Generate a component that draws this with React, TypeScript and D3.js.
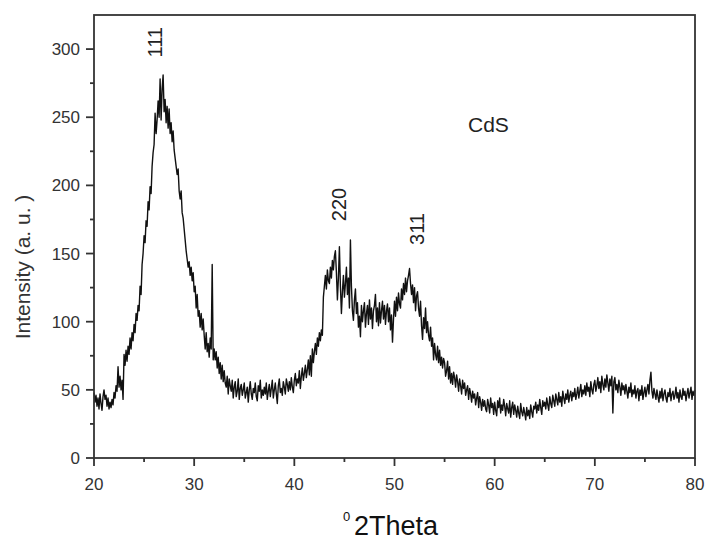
import React from 'react';
import * as d3 from 'd3';

// XRD scan of CdS, 2theta from 20 to 80 in 0.1 degree steps
const scanStart = 20;
const scanStep = 0.1;

const intensity20to35 = [
  48, 41, 46, 38, 44, 36, 47, 40, 35, 45,
  50, 43, 46, 38, 44, 36, 41, 37, 43, 39,
  48, 44, 53, 49, 67, 52, 60, 50, 57, 43,
  76, 68, 79, 71, 82, 76, 88, 80, 92, 86,
  98, 92, 106, 101, 112, 108, 126, 120, 142, 150,
  163, 158, 174, 170, 188, 182, 199, 194, 214, 224,
  230, 253, 238, 248, 262, 250, 278, 248, 271, 281,
  254, 263, 246, 258, 242, 256, 238, 246, 232, 240,
  226, 220, 214, 208, 212, 196, 190, 196, 180, 176,
  168, 160, 152, 146, 140, 144, 134, 140, 130, 136,
  122, 126, 110, 120, 104, 108, 96, 106, 94, 102,
  90, 80, 92, 78, 84, 74, 88, 80, 142, 72,
  80, 72, 78, 66, 74, 62, 70, 58, 68, 56,
  64, 55, 52, 60, 47, 58, 53, 49, 57, 44,
  52, 56, 45, 49, 58, 43, 51, 54, 46, 50,
];

const intensity35to50 = [
  55, 44, 48, 52, 41, 50, 56, 47, 43, 51,
  48, 55, 45, 42, 53, 49, 57, 44, 50, 46,
  52, 47, 55, 43, 49, 54, 45, 51, 57, 44,
  50, 55, 47, 40, 53, 58, 48, 51, 46, 56,
  52, 47, 58, 54, 49, 56, 50, 59, 52, 48,
  57, 62, 53, 58, 55, 64, 51, 60, 66, 57,
  62, 68, 59, 65, 72, 61, 75, 60, 80, 70,
  78, 84, 76, 88, 82, 92, 86, 94, 90, 118,
  126, 134, 124, 138, 130, 128, 140, 132, 145, 138,
  148, 152, 136, 116, 132, 155, 126, 106, 122, 134,
  118, 128, 140, 120, 132, 110, 160, 126, 108, 101,
  116, 124, 106, 114, 96, 104, 89, 112, 100, 108,
  114, 96, 106, 112, 98, 116, 102, 110, 95, 108,
  112, 120, 100, 110, 97, 114, 99, 108, 115, 102,
  112, 98, 108, 113, 100, 110, 94, 105, 85, 102,
];

const intensity50to65 = [
  115, 104, 118, 108, 121, 113, 110, 124, 116, 128,
  120, 132, 122, 130, 134, 139, 128, 120, 127, 114,
  125, 108, 119, 122, 110, 104, 115, 97, 87, 103,
  95, 110, 92, 100, 90, 86, 96, 82, 88, 72,
  84, 76, 72, 82, 70, 79, 68, 74, 66, 73,
  70, 60, 64, 71, 58, 67, 55, 62, 54, 63,
  59, 52, 61, 56, 49, 58, 53, 47, 57, 51,
  55, 46, 50, 53, 43, 51, 47, 41, 49, 44,
  47, 39, 44, 48, 37, 45, 41, 35, 43, 38,
  42, 36, 34, 43, 39, 33, 44, 37, 40, 32,
  41, 35, 31, 42, 37, 44, 33, 39, 35, 43,
  38, 31, 40, 36, 33, 42, 30, 37, 41, 32,
  39, 35, 30, 38, 33, 29, 40, 34, 31, 37,
  33, 28, 37, 31, 35, 29, 39, 34, 30, 38,
  36, 41, 33, 39, 35, 43, 37, 32, 42, 38,
];

const intensity65to80 = [
  41, 36, 44, 39, 35, 45, 40, 37, 46, 42,
  38, 47, 43, 39, 48, 41, 45, 38, 49, 44,
  40, 47, 43, 50, 41, 46, 49, 42, 48, 45,
  51, 43, 47, 52, 44, 49, 54, 45, 50, 47,
  53, 46, 55, 49, 52, 45, 56, 50, 47, 54,
  57, 49, 53, 59, 51, 56, 48, 60, 54, 50,
  58, 52, 61, 55, 49, 58, 53, 60, 33, 56,
  59, 50, 54, 48, 57, 52, 46, 55, 50, 53,
  47, 54, 49, 44, 52, 48, 55, 45, 50, 47,
  53, 44, 49, 51, 42, 50, 46, 53, 43, 48,
  52, 45, 50, 54, 47, 57, 63, 49, 44, 51,
  47, 43, 50, 45, 41, 49, 44, 51, 42, 47,
  50, 44, 41, 48, 45, 51, 42, 47, 49, 43,
  46, 52, 44, 48, 41, 50, 45, 43, 51, 46,
  49, 42, 47, 51, 44, 48, 52, 43, 49, 46,
  50,
];

// peak labels (hkl) and where they sit
const peakLabels = ['111', '220', '311'];
const peakTheta = [26.8, 45.2, 52.9];
const peakLabelLevel = [305, 186, 168];

const xTicks = [20, 30, 40, 50, 60, 70, 80];
const yTicks = [0, 50, 100, 150, 200, 250, 300];

const width = 705;
const height = 545;
const margin = { top: 15, right: 10, bottom: 87, left: 94 };

const font = 'Arial, "Liberation Sans", Helvetica, sans-serif';
const axisColor = '#333';

export default function App() {
  const intensity = [...intensity20to35, ...intensity35to50, ...intensity50to65, ...intensity65to80];
  const scan = intensity.map((v, i) => ({ theta: scanStart + i * scanStep, v }));

  const x = d3.scaleLinear().domain([20, 80]).range([margin.left, width - margin.right]);
  const y = d3.scaleLinear().domain([0, 325]).range([height - margin.bottom, margin.top]);

  const line = d3
    .line<{ theta: number; v: number }>()
    .x((d) => x(d.theta))
    .y((d) => y(d.v));

  const x0 = x.range()[0];
  const x1 = x.range()[1];
  const y0 = y.range()[0];
  const y1 = y.range()[1];

  // minor ticks half way between the majors
  const xMinor = d3.range(25, 80, 10);
  const yMinor = d3.range(25, 325, 50);

  return (
    <svg
      width={width}
      height={height}
      style={{ position: 'absolute', left: 0, top: 0, background: 'white' }}
      fontFamily={font}
    >
      <path d={line(scan) || ''} fill="none" stroke="#111" strokeWidth={1.4} strokeLinejoin="round" />

      {/* frame */}
      <rect x={x0} y={y1} width={x1 - x0} height={y0 - y1} fill="none" stroke={axisColor} strokeWidth={1.8} />

      {/* x axis */}
      {xTicks.map((t) => (
        <g key={'x' + t}>
          <line x1={x(t)} x2={x(t)} y1={y0} y2={y0 + 8} stroke={axisColor} strokeWidth={1.8} />
          <text x={x(t)} y={y0 + 32} textAnchor="middle" fontSize={17} fill={axisColor}>
            {t}
          </text>
        </g>
      ))}
      {xMinor.map((t) => (
        <line key={'xm' + t} x1={x(t)} x2={x(t)} y1={y0} y2={y0 + 4} stroke={axisColor} strokeWidth={1.8} />
      ))}

      {/* y axis */}
      {yTicks.map((t) => (
        <g key={'y' + t}>
          <line x1={x0 - 8} x2={x0} y1={y(t)} y2={y(t)} stroke={axisColor} strokeWidth={1.8} />
          <text x={x0 - 14} y={y(t) + 6} textAnchor="end" fontSize={17} fill={axisColor}>
            {t}
          </text>
        </g>
      ))}
      {yMinor.map((t) => (
        <line key={'ym' + t} x1={x0 - 4} x2={x0} y1={y(t)} y2={y(t)} stroke={axisColor} strokeWidth={1.8} />
      ))}

      {/* axis titles */}
      <text transform="translate(30,267) rotate(-90)" textAnchor="middle" fontSize={21} fill={axisColor}>
        Intensity (a. u. )
      </text>
      <text x={343} y={521} fontSize={13} fill="#111">0</text>
      <text x={354} y={535} fontSize={27} fill="#111">2Theta</text>

      {/* peak indices */}
      {peakLabels.map((p, i) => (
        <text
          key={p}
          transform={`translate(${x(peakTheta[i])},${y(peakLabelLevel[i])}) rotate(-90)`}
          textAnchor="middle"
          fontSize={20}
          fill="#222"
        >
          {p}
        </text>
      ))}

      <text x={468} y={132} fontSize={21} fill="#222">CdS</text>
    </svg>
  );
}
